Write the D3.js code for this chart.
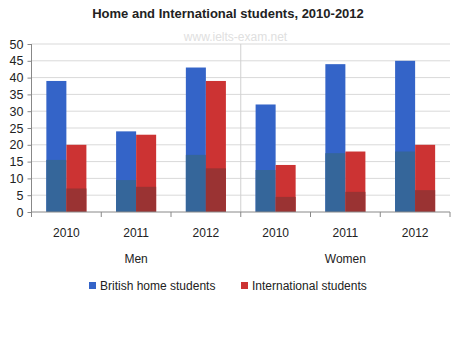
<!DOCTYPE html>
<html>
<head>
<meta charset="utf-8">
<title>Home and International students</title>
<script src="https://cdn.jsdelivr.net/npm/d3@7"></script>
<style>
  body { margin: 0; background: #fff; }
  text { font-family: "Liberation Sans", Arial, sans-serif; fill: #222; }
</style>
</head>
<body>
<div id="chart"></div>
<script>
  // data
  var groups = ["Men", "Women"];
  var years = ["2010", "2011", "2012"];
  var british = [39, 24, 43, 32, 44, 45];
  var international = [20, 23, 39, 14, 18, 20];
  // darker lower part of each bar
  var britishLower = [15.5, 9.5, 17, 12.5, 17.5, 18];
  var internationalLower = [7, 7.5, 13, 4.5, 6, 6.5];
  var seriesNames = ["British home students", "International students"];
  var yTicks = [0, 5, 10, 15, 20, 25, 30, 35, 40, 45, 50];

  var colors = ["#3464c8", "#cc3333"];
  var darkColors = ["#35669a", "#9a3333"];

  var W = 458, H = 350;
  var margin = {left: 31.5, right: 8, top: 44, bottom: 138};
  var wid = W - margin.left - margin.right;
  var high = H - margin.top - margin.bottom;

  var svg = d3.select("#chart").append("svg")
    .attr("width", W).attr("height", H);

  svg.append("text")
    .text("Home and International students, 2010-2012")
    .attr("x", 228).attr("y", 18)
    .attr("text-anchor", "middle")
    .style("font-weight", "bold").style("font-size", "13px");

  var g = svg.append("g")
    .attr("transform", translate(margin.left, margin.top));

  // one slot per group/year pair
  var slots = [];
  groups.forEach(function(gr) {
    years.forEach(function(y) { slots.push(gr + "|" + y); });
  });

  var ax = d3.scaleBand().domain(slots).range([0, wid]);
  var ay = d3.scaleLinear().domain([0, 50]).range([high, 0]);

  g.append("text")
    .text("www.ielts-exam.net")
    .attr("x", 204).attr("y", -3)
    .attr("text-anchor", "middle")
    .style("font-size", "12px").style("fill", "#e0e0e0");

  // gridlines
  g.selectAll(".grid")
    .data(yTicks.slice(1))
    .enter().append("line")
    .attr("x1", 0).attr("x2", wid)
    .attr("y1", function(d) { return ay(d); })
    .attr("y2", function(d) { return ay(d); })
    .attr("stroke", "#d9d9d9");

  // group divider
  g.append("line")
    .attr("x1", ax(slots[3])).attr("x2", ax(slots[3]))
    .attr("y1", 0).attr("y2", high)
    .attr("stroke", "#d0d0d0");

  var barW = ax.bandwidth() * 0.287;
  var rows = slots.map(function(s, i) {
    return {slot: s, vals: [british[i], international[i]], low: [britishLower[i], internationalLower[i]]};
  });

  [0, 1].forEach(function(k) {
    var bx = function(d) { return ax(d.slot) + ax.bandwidth() / 2 + (k - 1) * barW; };
    g.selectAll(".bar" + k)
      .data(rows).enter().append("rect")
      .attr("x", bx)
      .attr("y", function(d) { return ay(d.vals[k]); })
      .attr("width", barW)
      .attr("height", function(d) { return high - ay(d.vals[k]); })
      .attr("fill", colors[k]);
    g.selectAll(".low" + k)
      .data(rows).enter().append("rect")
      .attr("x", bx)
      .attr("y", function(d) { return ay(d.low[k]); })
      .attr("width", barW)
      .attr("height", function(d) { return high - ay(d.low[k]); })
      .attr("fill", darkColors[k]);
  });

  // y axis
  var yaxis = d3.axisLeft(ay).tickValues(yTicks).tickSize(4).tickPadding(4);
  var yg = g.append("g").call(yaxis);
  yg.select(".domain").attr("stroke", "#888").attr("d", "M0," + high + "V0");
  yg.selectAll(".tick line").attr("stroke", "#888");
  yg.selectAll("text").style("font-size", "12.5px").attr("fill", "#222").attr("font-family", null);

  // x axis
  var xaxis = d3.axisBottom(ax).tickSize(0).tickFormat(function(d) { return d.split("|")[1]; }).tickPadding(16);
  var xg = g.append("g").attr("transform", translate(0, high)).call(xaxis);
  xg.select(".domain").attr("stroke", "#888").attr("d", "M0,0H" + wid);
  xg.selectAll("text").style("font-size", "12px").attr("fill", "#222").attr("font-family", null);
  var edges = slots.map(function(s) { return ax(s); }).concat([wid]);
  xg.selectAll(".edge").data(edges).enter().append("line")
    .attr("x1", function(d) { return d; }).attr("x2", function(d) { return d; })
    .attr("y1", 0).attr("y2", 5).attr("stroke", "#888");

  // group labels
  g.selectAll(".grp").data(groups).enter().append("text")
    .text(function(d) { return d; })
    .attr("x", function(d, i) { return ax(slots[i * 3]) + ax.bandwidth() * 1.5; })
    .attr("y", high + 51)
    .attr("text-anchor", "middle")
    .style("font-size", "12px");

  // legend
  var legX = [89, 241];
  var leg = svg.selectAll(".leg").data(seriesNames).enter().append("g")
    .attr("transform", function(d, i) { return translate(legX[i], 285); });
  leg.append("rect").attr("width", 7).attr("height", 7).attr("y", -3)
    .attr("fill", function(d, i) { return colors[i]; });
  leg.append("text").text(function(d) { return d; })
    .attr("x", 11).attr("y", 4.5)
    .style("font-size", "12px");

  function translate(x, y) {
    return "translate(" + x + "," + y + ")";
  }
</script>
</body>
</html>
